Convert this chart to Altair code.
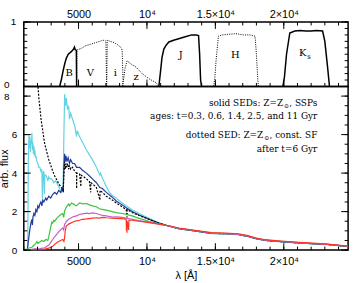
import altair as alt
import pandas as pd

SANS = "Liberation Sans"
SERIF = "DejaVu Serif"

# ---- axes ---------------------------------------------------------------
X_MIN, X_MAX = 1000, 24700
W, H_TOP, H_BOT = 327, 65, 165
Y_TOP = [0, 1]
Y_BOT = [0, 8.5]

x_major = [5000, 10000, 15000, 20000]
x_major_labels = ["5000", "10⁴", "1.5×10⁴", "2×10⁴"]
x_minor = list(range(1000, 25000, 1000))
top_y_labels = [0, 1]
top_y_minor = [0.1 * i for i in range(11)]
bot_y_labels = [0, 2, 4, 6, 8]
bot_y_minor = [0.5 * i for i in range(18)]

# ---- filter transmission curves (wavelength [A], relative throughput) ----
B_wave = [3620, 3760, 3860, 4000, 4110, 4250, 4470, 4640, 4700, 4760, 4840, 4850, 4860]
B_thru = [0.0, 0.12, 0.23, 0.36, 0.44, 0.50, 0.54, 0.58, 0.61, 0.57, 0.56, 0.30, 0.0]
V_wave = [4870, 4890, 4930, 5200, 5500, 5800, 6100, 6400, 6700, 6900, 7000, 7030, 7050]
V_thru = [0.0, 0.55, 0.57, 0.59, 0.63, 0.65, 0.67, 0.69, 0.71, 0.72, 0.70, 0.30, 0.0]
i_wave = [7060, 7080, 7100, 7300, 7610, 7900, 8120, 8190, 8230, 8260]
i_thru = [0.0, 0.40, 0.72, 0.70, 0.68, 0.64, 0.60, 0.56, 0.25, 0.0]
z_wave = [8190, 8300, 8400, 8550, 8700, 8900, 9205, 9640, 10150, 10655, 10870]
z_thru = [0.0, 0.12, 0.28, 0.40, 0.37, 0.34, 0.30, 0.20, 0.12, 0.06, 0.0]
J_wave = [10870, 11000, 11100, 11235, 11400, 11600, 12000, 12320, 12800, 13265, 13600, 13770, 13850, 13920, 13990]
J_thru = [0.0, 0.25, 0.45, 0.58, 0.64, 0.69, 0.72, 0.74, 0.77, 0.80, 0.80, 0.79, 0.50, 0.10, 0.0]
H_wave = [14860, 14950, 15050, 15220, 15500, 16000, 16500, 17000, 17500, 17900, 18000, 18100, 18150]
H_thru = [0.0, 0.10, 0.40, 0.78, 0.80, 0.81, 0.82, 0.80, 0.80, 0.78, 0.50, 0.10, 0.0]
K_wave = [19935, 20050, 20200, 20440, 20800, 21200, 21600, 22000, 22400, 22835, 23000, 23200, 23340]
K_thru = [0.0, 0.15, 0.50, 0.83, 0.86, 0.87, 0.86, 0.86, 0.87, 0.86, 0.70, 0.30, 0.0]

solid_filters = {"B": (B_wave, B_thru), "J": (J_wave, J_thru), "Ks": (K_wave, K_thru)}
dotted_filters = {"V": (V_wave, V_thru), "i": (i_wave, i_thru), "z": (z_wave, z_thru), "H": (H_wave, H_thru)}

band_names = ["B", "V", "i", "z", "J", "H", "K", "s"]
band_x = [4310, 5870, 7680, 9205, 12470, 16455, 21385, 21850]
band_y = [0.215, 0.215, 0.215, 0.14, 0.49, 0.49, 0.52, 0.45]
band_size = [10, 10, 10, 10, 10, 10, 10, 7]

# ---- model SEDs (wavelength [A], arbitrary flux) -------------------------
tail_wave = [13773, 14715, 15730, 16673, 17398, 17905, 18630, 19573, 20805, 22110, 23198, 24700]

cyan_wave = [1230, 1290, 1330, 1375, 1410, 1448, 1485, 1520, 1560, 1593, 1630, 1665, 1700, 1738,
             1780, 1810, 1850, 1883, 1955, 2028, 2100, 2173, 2245, 2318, 2360, 2400, 2463, 2500,
             2535, 2608, 2680, 2753, 2825, 2898, 3043, 3188, 3333, 3478, 3623, 3720, 3800, 3870,
             3930, 3985, 4058, 4100, 4203, 4275, 4340, 4420, 4565, 4710, 4855, 4900, 5073, 5290,
             5580, 5798, 6015, 6305, 6560, 6600, 6740, 7030, 7248, 7465, 7755, 8190, 8480, 8915,
             9423, 10148, 10873, 11380, 12323] + tail_wave
cyan_flux = [0.0, 0.2, 4.6, 6.0, 5.3, 5.9, 5.1, 5.7, 5.5, 6.1, 5.2, 5.6, 5.0, 5.4,
             4.9, 5.2, 4.8, 4.9, 4.6, 4.5, 4.3, 4.3, 4.1, 4.2, 2.7, 4.0, 4.1, 2.9,
             3.9, 3.9, 3.8, 3.6, 3.8, 3.7, 3.7, 3.5, 3.6, 3.4, 3.2, 3.0, 3.1, 3.3,
             6.0, 8.1, 7.5, 7.9, 7.3, 7.5, 6.8, 7.1, 6.8, 6.5, 5.9, 6.2, 5.9, 5.6,
             5.2, 4.95, 4.7, 4.3, 3.9, 4.0, 3.75, 3.3, 3.0, 2.85, 2.7, 2.45, 2.3, 2.1,
             1.9, 1.65, 1.42, 1.3, 1.12,
             0.96, 0.86, 0.84, 0.80, 0.70, 0.60, 0.50, 0.44, 0.38, 0.32, 0.28, 0.18]

navy_wave = [1250, 1303, 1375, 1448, 1520, 1593, 1630, 1665, 1738, 1810, 1883, 1955, 2028, 2100,
             2173, 2245, 2318, 2390, 2463, 2535, 2608, 2680, 2825, 2970, 3115, 3260, 3405, 3550,
             3695, 3800, 3880, 3930, 3985, 4030, 4080, 4150, 4240, 4340, 4420, 4565, 4710, 4855,
             5073, 5290, 5580, 5798, 6015, 6305, 6560, 6740, 7030, 7465, 7755, 8190, 8480, 8915,
             9423, 10148, 10873, 11380, 12323] + tail_wave
navy_flux = [0.0, 0.3, 0.7, 1.1, 1.4, 1.6, 1.3, 1.7, 1.9, 1.8, 2.1, 2.0, 2.3, 2.2,
             2.4, 2.5, 2.3, 2.6, 2.5, 2.6, 2.7, 2.6, 2.8, 2.7, 2.9, 3.0, 2.9, 3.1,
             3.0, 3.2, 3.0, 4.3, 5.0, 4.6, 4.9, 4.6, 4.8, 4.5, 4.7, 4.5, 4.5, 4.3,
             4.3, 4.15, 4.0, 3.85, 3.7, 3.5, 3.25, 3.2, 3.0, 2.75, 2.55, 2.35, 2.2, 2.0,
             1.82, 1.6, 1.4, 1.29, 1.12,
             0.97, 0.87, 0.85, 0.81, 0.71, 0.61, 0.51, 0.45, 0.39, 0.33, 0.29, 0.19]

csf_wave = [2000, 2028, 2100, 2173, 2245, 2318, 2390, 2463, 2535, 2680, 2825, 2970, 3115, 3260,
            3405, 3550, 3695, 3800, 3880, 3935, 3985, 4030, 4080, 4130, 4203, 4275, 4340, 4420,
            4565, 4710, 4855, 4861, 4870, 5073, 5175, 5185, 5290, 5580, 5798, 5890, 5900, 6015,
            6305, 6563, 6575, 6740, 7030, 7465, 7755, 8190, 8480, 8542, 8555, 8915, 9423, 10148,
            10873, 11380, 12323] + tail_wave
csf_flux = [9.2, 8.6, 7.9, 7.4, 6.9, 6.5, 6.2, 5.8, 5.5, 5.1, 4.7, 4.4, 4.1, 3.85,
            3.65, 3.45, 3.3, 3.2, 3.1, 4.0, 4.6, 4.2, 4.5, 4.3, 4.5, 4.2, 4.4, 4.2,
            4.3, 4.1, 4.0, 3.2, 4.0, 3.95, 3.3, 3.9, 3.85, 3.7, 3.55, 3.0, 3.5, 3.45,
            3.25, 2.6, 3.1, 3.0, 2.8, 2.6, 2.45, 2.25, 2.1, 1.7, 2.1, 1.95, 1.8, 1.6,
            1.4, 1.3, 1.12,
            0.97, 0.87, 0.85, 0.81, 0.71, 0.61, 0.51, 0.45, 0.39, 0.33, 0.29, 0.19]

green_wave = [1230, 1303, 1448, 1593, 1738, 1883, 1955, 2028, 2173, 2318, 2463, 2608, 2753, 2825,
              2898, 2970, 3043, 3115, 3188, 3260, 3405, 3550, 3695, 3840, 3913, 3985, 4130, 4275,
              4348, 4493, 4710, 4855, 5073, 5290, 5580, 5798, 6015, 6305, 6523, 6740, 7030, 7465,
              7755, 8190, 8480, 8915, 9423, 10148, 10873, 11380, 12323] + tail_wave
green_flux = [0.0, 0.08, 0.12, 0.15, 0.25, 0.35, 0.45, 0.35, 0.42, 0.5, 0.45, 0.55, 0.5, 0.7,
              0.95, 1.2, 1.45, 1.4, 1.55, 1.5, 1.65, 1.75, 1.85, 1.9, 1.7, 2.05, 2.25, 2.4,
              2.3, 2.45, 2.35, 2.3, 2.45, 2.4, 2.42, 2.35, 2.3, 2.25, 2.15, 2.12, 2.08, 2.0,
              1.95, 1.9, 1.86, 1.78, 1.65, 1.5, 1.37, 1.29, 1.13,
              0.98, 0.88, 0.86, 0.82, 0.72, 0.62, 0.52, 0.46, 0.40, 0.34, 0.30, 0.20]

mag_wave = [1230, 1448, 1810, 2173, 2535, 2680, 2825, 2970, 3115, 3260, 3405, 3550, 3695, 3840,
            3913, 3985, 4130, 4275, 4420, 4565, 4710, 4855, 5073, 5290, 5580, 5798, 6015, 6305,
            6523, 6740, 7030, 7465, 7755, 8190, 8480, 8915, 9423, 10148, 10873, 11380, 12323] + tail_wave
mag_flux = [0.0, 0.03, 0.06, 0.08, 0.12, 0.2, 0.25, 0.4, 0.55, 0.7, 0.82, 0.95, 1.05, 1.15,
            1.05, 1.35, 1.5, 1.6, 1.65, 1.72, 1.75, 1.78, 1.85, 1.88, 1.92, 1.9, 1.93, 1.9,
            1.85, 1.8, 1.78, 1.72, 1.73, 1.7, 1.66, 1.6, 1.53, 1.45, 1.35, 1.28, 1.13,
            0.98, 0.88, 0.86, 0.82, 0.72, 0.62, 0.52, 0.46, 0.40, 0.34, 0.30, 0.20]

red_wave = [1230, 1448, 2173, 2535, 2825, 3115, 3260, 3405, 3550, 3695, 3840, 3930, 3985, 4030,
            4100, 4203, 4275, 4420, 4565, 4710, 4855, 5073, 5290, 5580, 5798, 6015, 6305, 6523,
            6740, 7030, 7465, 7755, 8190, 8480, 8500, 8520, 8542, 8560, 8662, 8680, 8915, 9423,
            10148, 10873, 11380, 12323] + tail_wave
red_flux = [0.0, 0.02, 0.03, 0.05, 0.1, 0.2, 0.3, 0.38, 0.45, 0.5, 0.55, 0.45, 0.65, 1.0,
            1.25, 1.3, 1.35, 1.4, 1.45, 1.5, 1.52, 1.55, 1.6, 1.62, 1.64, 1.66, 1.68, 1.66,
            1.7, 1.68, 1.66, 1.65, 1.64, 1.6, 1.0, 1.55, 0.9, 1.5, 1.05, 1.55, 1.55, 1.5,
            1.43, 1.35, 1.29, 1.15,
            1.0, 0.91, 0.89, 0.85, 0.75, 0.64, 0.54, 0.48, 0.42, 0.36, 0.31, 0.21]

# drawing order and colours of the SEDs
seds = [
    ("0.3 Gyr", cyan_wave, cyan_flux, "#62d2e4", None),
    ("0.6 Gyr", navy_wave, navy_flux, "#1f3b9c", None),
    ("const. SF", csf_wave, csf_flux, "#000000", [2, 1.5]),
    ("1.4 Gyr", green_wave, green_flux, "#3dc43d", None),
    ("2.5 Gyr", mag_wave, mag_flux, "#c45ec8", None),
    ("11 Gyr", red_wave, red_flux, "#ff3322", None),
]

# legend notes: (head, subscript, tail, flux level, tail width in px)
note_rows = [
    ("solid SEDs: Z=Z", "⊙", ", SSPs", 7.62, 28.5),
    ("ages: t=0.3, 0.6, 1.4, 2.5, and 11 Gyr", "", "", 6.97, 0),
    ("dotted SED: Z=Z", "⊙", ", const. SF", 5.97, 48.5),
    ("after t=6 Gyr", "", "", 5.23, 0),
]
NOTE_X = 22450
NOTE_FS = 9
SUB_W = 6.0

# ---- scales / axes --------------------------------------------------------
label_expr = " : ".join(f"datum.value == {v} ? '{t}'" for v, t in zip(x_major, x_major_labels)) + " : ''"
xscale = alt.Scale(domain=[X_MIN, X_MAX], nice=False, zero=False)
ys_top = alt.Scale(domain=Y_TOP, nice=False, zero=False)
ys_bot = alt.Scale(domain=Y_BOT, nice=False, zero=False)

ax_x_top = alt.Axis(orient="top", values=x_major, labelExpr=label_expr, ticks=False, domain=False,
                    grid=False, labelFont=SANS, labelFontSize=11, labelPadding=3, labelColor="black")
ax_x_bot = alt.Axis(orient="bottom", values=x_major, labelExpr=label_expr, ticks=False, domain=False,
                    grid=False, labelFont=SANS, labelFontSize=11, labelPadding=6, labelColor="black",
                    titleFont=SANS, titleFontSize=11, titleFontWeight="normal", titlePadding=3,
                    titleColor="black")
# the labels that meet at the panel junction sit a little further out
ax_y_top = alt.Axis(values=top_y_labels, format="d", ticks=False, domain=False, grid=False,
                    labelFont=SANS, labelFontSize=10, labelColor="black",
                    labelPadding={"condition": {"test": "datum.value == 0", "value": 15}, "value": 8},
                    labelOffset={"condition": {"test": "datum.value == 0", "value": -1.5}, "value": 0})
ax_y_bot = alt.Axis(values=bot_y_labels, format="d", ticks=False, domain=False, grid=False,
                    labelFont=SANS, labelFontSize=10, labelColor="black",
                    labelPadding={"condition": {"test": "datum.value == 8", "value": 15}, "value": 7},
                    titleFont=SANS, titleFontSize=11, titleFontWeight="normal", titleColor="black",
                    titleX=-14)


def xenc(field, axis, title=None):
    return alt.X(field, type="quantitative", scale=xscale, axis=axis, title=title)


def yenc(field, scale, axis, title=None):
    return alt.Y(field, type="quantitative", scale=scale, axis=axis, title=title)


def frame_ticks(h, xaxis, xtitle, yscale, yaxis, ytitle, y_major, y_minor, x_edges):
    """Inward-pointing tick marks on the frame of one panel."""
    layers = []
    for vals, ln in ((x_minor, 3.5), (x_major, 7)):
        df = pd.DataFrame({"t": vals})
        for edge in x_edges:
            y0, y1 = (0, ln) if edge == "top" else (h, h - ln)
            layers.append(alt.Chart(df).mark_rule(color="black", strokeWidth=1).encode(
                x=xenc("t", xaxis, xtitle), y=alt.value(y0), y2=alt.value(y1)))
    for vals, ln in ((y_minor, 3.5), (y_major, 7)):
        df = pd.DataFrame({"t": vals})
        for x0, x1 in ((0, ln), (W, W - ln)):
            layers.append(alt.Chart(df).mark_rule(color="black", strokeWidth=1).encode(
                y=yenc("t", yscale, yaxis, ytitle), x=alt.value(x0), x2=alt.value(x1)))
    return layers


# ---- top panel: filter curves ---------------------------------------------
def filt_df(d):
    rows = []
    for name, (wv, tr) in d.items():
        rows += [{"wave": a, "thru": b, "band": name} for a, b in zip(wv, tr)]
    return pd.DataFrame(rows)


top_layers = [
    alt.Chart(filt_df(solid_filters)).mark_line(color="black", strokeWidth=1.5).encode(
        x=xenc("wave", ax_x_top), y=yenc("thru", ys_top, ax_y_top), detail="band"),
    alt.Chart(filt_df(dotted_filters)).mark_line(color="black", strokeWidth=1, strokeDash=[1, 1.3]).encode(
        x=xenc("wave", ax_x_top), y=yenc("thru", ys_top, ax_y_top), detail="band"),
]
lab_df = pd.DataFrame({"wave": band_x, "thru": band_y, "name": band_names, "size": band_size})
top_layers.append(alt.Chart(lab_df).mark_text(font=SERIF, color="black").encode(
    x=xenc("wave", ax_x_top), y=yenc("thru", ys_top, ax_y_top), text="name:N",
    size=alt.Size("size:Q", scale=None, legend=None)))
top_layers += frame_ticks(H_TOP, ax_x_top, None, ys_top, ax_y_top, None, [0, 1], top_y_minor,
                          ["top", "bottom"])
top = alt.layer(*top_layers).properties(width=W, height=H_TOP)

# ---- bottom panel: SEDs ----------------------------------------------------
XT, YT = "λ [Å]", "arb. flux"
bot_layers = []
for name, wv, fl, col, dash in seds:
    df = pd.DataFrame({"wave": wv, "flux": fl})
    mk = dict(color=col, strokeWidth=1.2, clip=True)
    if dash:
        mk["strokeDash"] = dash
    bot_layers.append(alt.Chart(df).mark_line(**mk).encode(
        x=xenc("wave", ax_x_bot, XT), y=yenc("flux", ys_bot, ax_y_bot, YT)))

for head, sub, tail, lev, tail_w in note_rows:
    one = pd.DataFrame({"wave": [NOTE_X], "flux": [lev]})
    pieces = [(tail, NOTE_FS, 0, 0)] if tail else []
    if sub:
        pieces.append((sub, 6, -tail_w, 2.5))
        pieces.append((head, NOTE_FS, -tail_w - SUB_W, 0))
    else:
        pieces.append((head, NOTE_FS, 0, 0))
    for txt, fs, dx, dy in pieces:
        bot_layers.append(alt.Chart(one).mark_text(
            font=SERIF, fontSize=fs, align="right", color="black", dx=dx, dy=dy, text=txt).encode(
            x=xenc("wave", ax_x_bot, XT), y=yenc("flux", ys_bot, ax_y_bot, YT)))

bot_layers += frame_ticks(H_BOT, ax_x_bot, XT, ys_bot, ax_y_bot, YT, bot_y_labels,
                          bot_y_minor, ["bottom"])
bottom = alt.layer(*bot_layers).properties(width=W, height=H_BOT)

chart = alt.vconcat(top, bottom, spacing=0, bounds="flush").properties(
    padding={"left": -2, "top": 6, "right": 10, "bottom": 3},
    background="white",
).configure_view(stroke="black", strokeWidth=1.5)

chart.save("out.html", embed_options={"renderer": "svg", "actions": False})
